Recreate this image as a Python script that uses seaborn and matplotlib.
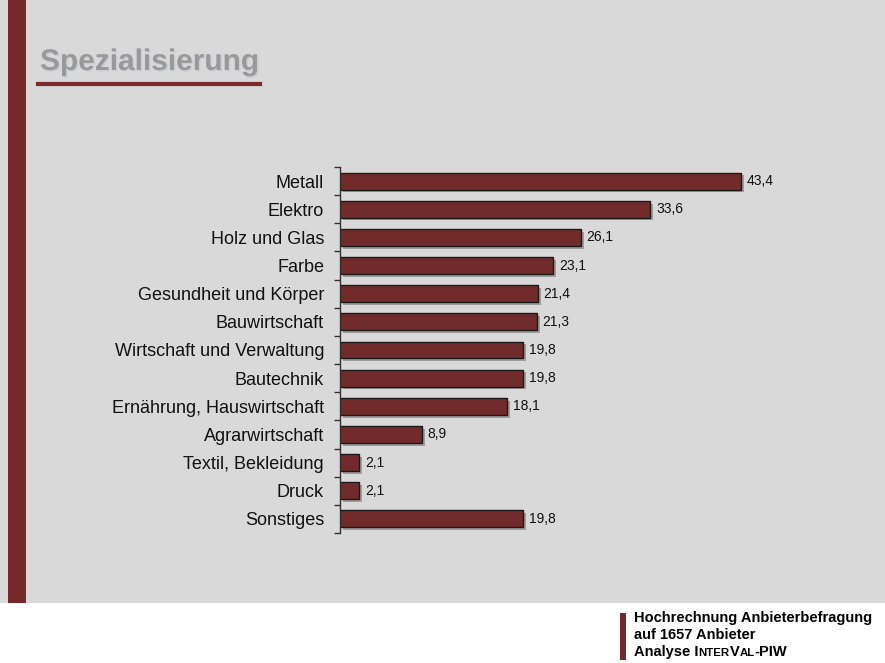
import matplotlib
matplotlib.use("Agg")
import matplotlib.pyplot as plt
import matplotlib.patheffects as pe
from matplotlib.patches import Rectangle
from matplotlib.lines import Line2D
import seaborn as sns
import pandas as pd

categories = ["Metall", "Elektro", "Holz und Glas", "Farbe", "Gesundheit und Körper",
              "Bauwirtschaft", "Wirtschaft und Verwaltung", "Bautechnik",
              "Ernährung, Hauswirtschaft", "Agrarwirtschaft", "Textil, Bekleidung",
              "Druck", "Sonstiges"]
values = [43.4, 33.6, 26.1, 23.1, 21.4, 21.3, 19.8, 19.8, 18.1, 8.9, 2.1, 2.1, 19.8]
title = "Spezialisierung"
footnote_lines = ["Hochrechnung Anbieterbefragung", "auf 1657 Anbieter"]

plt.rcParams['font.family'] = ['Liberation Sans', 'DejaVu Sans']

W, H = 885, 663
maroon = "#722b2b"
bg = "#d9d9d9"

fig = plt.figure(figsize=(W / 100, H / 100), dpi=100, facecolor="white")

# grey panel and left stripe
fig.patches.append(Rectangle((0, 1 - 603 / H), 1, 603 / H, transform=fig.transFigure,
                             facecolor=bg, edgecolor="none", zorder=-10))
fig.patches.append(Rectangle((8 / W, 1 - 603 / H), 18 / W, 603 / H, transform=fig.transFigure,
                             facecolor="#762929", edgecolor="none", zorder=-9))

# title
fig.text(40 / W, 1 - 70 / H, title, fontsize=21.5, fontweight="bold", color="#999999",
         va="baseline", ha="left",
         path_effects=[pe.withSimplePatchShadow(offset=(1, -1), shadow_rgbFace="#c4c8d2", alpha=0.7)])
fig.lines.append(Line2D([38 / W, 260 / W], [1 - 84 / H, 1 - 84 / H], transform=fig.transFigure,
                        color="#7a2a2a", linewidth=3))

# chart
ax = fig.add_axes([340 / W, 1 - 533 / H, (802 - 340) / W, (533 - 167) / H])
ax.patch.set_alpha(0)
df = pd.DataFrame({"cat": categories, "val": values})
sns.barplot(data=df, x="val", y="cat", orient="h", color=maroon, saturation=1,
            width=0.6, edgecolor="#1a1a1a", linewidth=1, ax=ax)
for p in ax.patches:
    p.set_path_effects([pe.SimplePatchShadow(offset=(2, -2), shadow_rgbFace="#555555", alpha=0.45),
                        pe.Normal()])
ax.bar_label(ax.containers[0], labels=[f"{v:.1f}".replace(".", ",") for v in values],
             padding=4, fontsize=10, color="#111111")
ax.set_xlim(0, 50)
ax.set_ylim(12.5, -0.5)
ax.set_xlabel("")
ax.set_ylabel("")
ax.xaxis.set_visible(False)
for s in ["top", "right", "bottom"]:
    ax.spines[s].set_visible(False)
ax.spines["left"].set_color("#333333")
ax.spines["left"].set_linewidth(1)
ax.tick_params(axis="y", which="major", length=0, pad=11.5, labelsize=13, labelcolor="#111111")
ax.set_yticks([i - 0.5 for i in range(14)], minor=True)
ax.tick_params(axis="y", which="minor", length=4, width=1, color="#333333", direction="out")

# footnote
fig.patches.append(Rectangle((620 / W, 1 - 660 / H), 6 / W, 47 / H, transform=fig.transFigure,
                             facecolor="#762929", edgecolor="none"))
fs = 10.5
fig.text(634 / W, 1 - 622 / H, footnote_lines[0], fontsize=fs, fontweight="bold", va="baseline")
fig.text(634 / W, 1 - 639 / H, footnote_lines[1], fontsize=fs, fontweight="bold", va="baseline")
parts = [("Analyse I", fs), ("NTER", fs * 0.78), ("V", fs), ("AL", fs * 0.78), ("-PIW", fs)]
texts = [fig.text(634 / W, 1 - 656 / H, parts[0][0], fontsize=parts[0][1], fontweight="bold",
                  va="baseline")]
for txt, size in parts[1:]:
    texts.append(fig.text(0, 0, txt, fontsize=size, fontweight="bold", va="baseline", ha="left"))
fig.canvas.draw()
renderer = fig.canvas.get_renderer()
x_px = texts[0].get_window_extent(renderer).x1
y_base = 1 - 656 / H
for t in texts[1:]:
    t.set_position((x_px / W, y_base))
    x_px = t.get_window_extent(renderer).x1

fig.savefig("out.png", dpi=100, facecolor="white")
